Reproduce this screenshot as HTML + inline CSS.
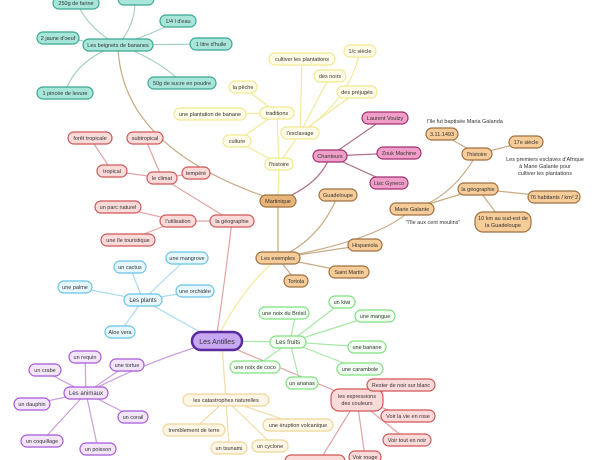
<!DOCTYPE html>
<html><head><meta charset="utf-8"><style>
html,body{margin:0;padding:0;background:#fff;width:600px;height:460px;overflow:hidden}
svg{display:block}
text{font-family:"Liberation Sans",sans-serif;font-size:5.5px;text-anchor:middle;fill:#333}
.t rect{fill:#a8e6da;stroke:#3aa890;stroke-width:1.2}
.y rect{fill:#fffde8;stroke:#f0e890;stroke-width:1.2}
.p rect{fill:#f0a0c8;stroke:#a03070;stroke-width:1.2}
.o rect{fill:#f6cc98;stroke:#a07040;stroke-width:1.2}
.r rect{fill:#fbdada;stroke:#d05858;stroke-width:1.2}
.b rect{fill:#e6f7fd;stroke:#68c4e4;stroke-width:1.2}
.v rect{fill:#f3e6fb;stroke:#a858d8;stroke-width:1.2}
.g rect{fill:#f2fff2;stroke:#80e080;stroke-width:1.2}
.l rect{fill:#fff6e6;stroke:#f0d498;stroke-width:1.2}
path{fill:none;stroke-width:1.2}
</style></head><body>
<svg width="600" height="460" viewBox="0 0 600 460">
<!-- edges -->
<g stroke="#a8d0c8">
<path d="M118 45 Q90 30 78 5"/><path d="M118 45 Q135 25 135 2"/><path d="M118 45 Q150 35 178 21"/>
<path d="M118 45 L58 38"/><path d="M118 45 L211 44"/><path d="M118 45 Q160 60 182 83"/><path d="M118 45 Q75 60 65 93"/>
</g>
<g stroke="#c8aa84">
<path d="M118 45 Q120 150 278 201"/><path d="M278 201 L278 258"/>
<path d="M278 258 Q320 240 338 195"/><path d="M278 258 L365 245"/><path d="M278 258 L349 272"/><path d="M278 258 L296 281"/>
<path d="M278 258 Q380 240 412 209"/><path d="M412 209 Q450 200 477 154"/><path d="M412 209 L478 189"/>
<path d="M477 154 L442 134"/><path d="M477 154 L526 142"/><path d="M478 189 L554 197"/><path d="M478 189 L503 222"/>
</g>
<g stroke="#f2ea9c">
<path d="M279 164 L277 113"/><path d="M279 164 L300 133"/><path d="M279 164 L278 201"/>
<path d="M277 113 L243 87"/><path d="M277 113 L210 114"/><path d="M277 113 L237 141"/><path d="M237 141 L279 164"/>
<path d="M300 133 L302 59"/><path d="M300 133 Q350 100 360 51"/><path d="M300 133 L330 76"/><path d="M300 133 L357 92"/>
<path d="M216 341 Q240 290 278 258"/>
</g>
<g stroke="#b07090">
<path d="M330 156 L385 118"/><path d="M330 156 L399 153"/><path d="M330 156 L389 183"/><path d="M330 156 Q320 185 278 201"/>
</g>
<g stroke="#e2a4a4">
<path d="M232 221 L162 178"/><path d="M232 221 L178 221"/><path d="M162 178 L112 171"/><path d="M162 178 L145 138"/><path d="M162 178 L196 173"/>
<path d="M112 171 L90 138"/><path d="M178 221 L118 207"/><path d="M178 221 L128 240"/>
<path d="M216 341 Q225 280 232 221"/><path d="M216 341 L357 400"/>
<path d="M357 400 L401 385"/><path d="M357 400 L408 416"/><path d="M357 400 L407 440"/><path d="M357 400 L365 457"/><path d="M357 400 L320 460"/>
</g>
<g stroke="#a8dcee">
<path d="M216 341 L143 300"/><path d="M143 300 L130 267"/><path d="M143 300 L187 258"/><path d="M143 300 L75 287"/><path d="M143 300 L195 291"/><path d="M143 300 L120 332"/>
</g>
<g stroke="#c8a0e0">
<path d="M216 341 Q150 360 86 393"/><path d="M86 393 L85 357"/><path d="M86 393 L127 365"/><path d="M86 393 L42 370"/><path d="M86 393 L32 404"/><path d="M86 393 L133 417"/><path d="M86 393 L42 441"/><path d="M86 393 L98 449"/>
</g>
<g stroke="#a8e8a8">
<path d="M216 341 L290 342"/><path d="M290 342 L296 313"/><path d="M290 342 L342 302"/><path d="M290 342 L372 316"/><path d="M290 342 L366 347"/><path d="M290 342 L359 369"/><path d="M290 342 L255 367"/><path d="M290 342 L300 383"/>
</g>
<g stroke="#f2dcaa">
<path d="M222 345 L226 400"/><path d="M226 400 L193 430"/><path d="M226 400 L300 425"/><path d="M226 400 L229 448"/><path d="M226 400 L274 446"/>
</g>
<!-- nodes -->
<g class="t">
<rect x="53" y="-3" width="46" height="12" rx="6"/><text x="76" y="5">250g de farine</text>
<rect x="118" y="-7" width="36" height="12" rx="6"/>
<rect x="160" y="15" width="36" height="12" rx="6"/><text x="178" y="23">1/4 l d'eau</text>
<rect x="37" y="32" width="42" height="12" rx="6"/><text x="58" y="40">2 jaune d'oeuf</text>
<rect x="83" y="39" width="70" height="12" rx="6"/><text x="118" y="47">Les beignets de bananes</text>
<rect x="190" y="38" width="42" height="12" rx="6"/><text x="211" y="46">1 litre d'huile</text>
<rect x="148" y="77" width="68" height="12" rx="6"/><text x="182" y="85">50g de sucre en poudre</text>
<rect x="37" y="87" width="56" height="12" rx="6"/><text x="65" y="95">1 pincée de levure</text>
</g>
<g class="y">
<rect x="269" y="53" width="66" height="12" rx="6"/><text x="302" y="61">cultiver les plantations</text>
<rect x="344" y="45" width="32" height="12" rx="6"/><text x="360" y="53">1/c siècle</text>
<rect x="314" y="70" width="32" height="12" rx="6"/><text x="330" y="78">des noirs</text>
<rect x="337" y="86" width="40" height="12" rx="6"/><text x="357" y="94">des préjugés</text>
<rect x="229" y="81" width="28" height="12" rx="6"/><text x="243" y="89">la pêche</text>
<rect x="260" y="107" width="34" height="12" rx="6"/><text x="277" y="115">traditions</text>
<rect x="174" y="108" width="72" height="12" rx="6"/><text x="210" y="116">une plantation de banane</text>
<rect x="281" y="127" width="38" height="12" rx="6"/><text x="300" y="135">l'esclavage</text>
<rect x="223" y="135" width="28" height="12" rx="6"/><text x="237" y="143">culture</text>
<rect x="265" y="158" width="28" height="12" rx="6"/><text x="279" y="166">l'histoire</text>
</g>
<g class="p">
<rect x="362" y="112" width="46" height="12" rx="6"/><text x="385" y="120">Laurent Voulzy</text>
<rect x="313" y="150" width="34" height="12" rx="6"/><text x="330" y="158">Chanteurs</text>
<rect x="377" y="147" width="44" height="12" rx="6"/><text x="399" y="155">Zouk Machine</text>
<rect x="370" y="177" width="38" height="12" rx="6"/><text x="389" y="185">Lisc Gyneco</text>
</g>
<g class="o">
<rect x="260" y="195" width="36" height="12" rx="6" style="fill:#e8b478"/><text x="278" y="203">Martinique</text>
<rect x="319" y="189" width="38" height="12" rx="6"/><text x="338" y="197">Guadeloupe</text>
<rect x="426" y="128" width="32" height="12" rx="6"/><text x="442" y="136">3.11.1493</text>
<rect x="462" y="148" width="30" height="12" rx="6"/><text x="477" y="156">l'histoire</text>
<rect x="509" y="136" width="34" height="12" rx="6"/><text x="526" y="144">17e siècle</text>
<rect x="458" y="183" width="40" height="12" rx="6"/><text x="478" y="191">la géographie</text>
<rect x="528" y="191" width="52" height="12" rx="6"/><text x="554" y="199">76 habitants / km² 2</text>
<rect x="390" y="203" width="44" height="12" rx="6"/><text x="412" y="211">Marie Galante</text>
<rect x="475" y="212" width="56" height="20" rx="8"/><text x="503" y="220">10 km au sud-est de</text><text x="503" y="227">la Guadeloupe</text>
<rect x="256" y="252" width="44" height="12" rx="6"/><text x="278" y="260">Les exemples</text>
<rect x="348" y="239" width="34" height="12" rx="6"/><text x="365" y="247">Hispaniola</text>
<rect x="329" y="266" width="40" height="12" rx="6"/><text x="349" y="274">Saint Martin</text>
<rect x="284" y="275" width="24" height="12" rx="6"/><text x="296" y="283">Tortola</text>
</g>
<text x="465" y="123">l'île fut baptisée Maria Galanda</text>
<text x="545" y="161">Les premiers esclaves d'Afrique</text>
<text x="545" y="168">à Marie Galante pour</text>
<text x="545" y="175">cultiver les plantations</text>
<text x="433" y="224">"l'île aux cent moulins"</text>
<g class="r">
<rect x="68" y="132" width="44" height="12" rx="6"/><text x="90" y="140">forêt tropicale</text>
<rect x="127" y="132" width="36" height="12" rx="6"/><text x="145" y="140">subtropical</text>
<rect x="97" y="165" width="30" height="12" rx="6"/><text x="112" y="173">tropical</text>
<rect x="147" y="172" width="30" height="12" rx="6"/><text x="162" y="180">le climat</text>
<rect x="182" y="167" width="28" height="12" rx="6"/><text x="196" y="175">tempéré</text>
<rect x="95" y="201" width="46" height="12" rx="6"/><text x="118" y="209">un parc naturel</text>
<rect x="160" y="215" width="36" height="12" rx="6"/><text x="178" y="223">l'utilisation</text>
<rect x="210" y="215" width="44" height="12" rx="6"/><text x="232" y="223">la géographie</text>
<rect x="101" y="234" width="54" height="12" rx="6"/><text x="128" y="242">une île touristique</text>
<rect x="331" y="389" width="52" height="22" rx="8"/><text x="357" y="398">les expressions</text><text x="357" y="405">des couleurs</text>
<rect x="367" y="379" width="68" height="12" rx="6"/><text x="401" y="387">Rester de noir sur blanc</text>
<rect x="381" y="410" width="54" height="12" rx="6"/><text x="408" y="418">Voir la vie en rose</text>
<rect x="383" y="434" width="48" height="12" rx="6"/><text x="407" y="442">Voir tout en noir</text>
<rect x="349" y="451" width="32" height="12" rx="6"/><text x="365" y="459">Voir rouge</text>
<rect x="285" y="455" width="60" height="12" rx="6"/>
</g>
<g class="b">
<rect x="114" y="261" width="32" height="12" rx="6"/><text x="130" y="269">un cactus</text>
<rect x="166" y="252" width="42" height="12" rx="6"/><text x="187" y="260">une mangrove</text>
<rect x="58" y="281" width="34" height="12" rx="6"/><text x="75" y="289">une palme</text>
<rect x="124" y="294" width="38" height="12" rx="6"/><text x="143" y="302" style="font-size:6px">Les plants</text>
<rect x="176" y="285" width="38" height="12" rx="6"/><text x="195" y="293">une orchidée</text>
<rect x="105" y="326" width="30" height="12" rx="6"/><text x="120" y="334">Aloe vera</text>
</g>
<g class="v">
<rect x="192" y="332" width="50" height="18" rx="9" style="fill:#c8a8f0;stroke:#5a2aa0;stroke-width:2.5"/><text x="217" y="344" style="font-size:7px">Les Antilles</text>
<rect x="69" y="351" width="32" height="12" rx="6"/><text x="85" y="359">un requin</text>
<rect x="110" y="359" width="34" height="12" rx="6"/><text x="127" y="367">une tortue</text>
<rect x="29" y="364" width="32" height="12" rx="6"/><text x="45" y="372">un crabe</text>
<rect x="64" y="387" width="44" height="12" rx="6"/><text x="86" y="395" style="font-size:6px">Les animaux</text>
<rect x="14" y="398" width="36" height="12" rx="6"/><text x="32" y="406">un dauphin</text>
<rect x="118" y="411" width="30" height="12" rx="6"/><text x="133" y="419">un corail</text>
<rect x="21" y="435" width="42" height="12" rx="6"/><text x="42" y="443">un coquillage</text>
<rect x="80" y="443" width="36" height="12" rx="6"/><text x="98" y="451">un poisson</text>
</g>
<g class="g">
<rect x="259" y="307" width="50" height="12" rx="6"/><text x="284" y="315">une noix du Brésil</text>
<rect x="329" y="296" width="26" height="12" rx="6"/><text x="342" y="304">un kiwi</text>
<rect x="355" y="310" width="40" height="12" rx="6"/><text x="375" y="318">une mangue</text>
<rect x="270" y="336" width="36" height="12" rx="6"/><text x="288" y="344" style="font-size:6px">Les fruits</text>
<rect x="348" y="341" width="38" height="12" rx="6"/><text x="367" y="349">une banane</text>
<rect x="337" y="363" width="46" height="12" rx="6"/><text x="360" y="371">une carambole</text>
<rect x="230" y="361" width="50" height="12" rx="6"/><text x="255" y="369">une noix de coco</text>
<rect x="286" y="377" width="32" height="12" rx="6"/><text x="302" y="385">un ananas</text>
</g>
<g class="l">
<rect x="183" y="394" width="86" height="12" rx="6"/><text x="226" y="402">les catastrophes naturelles</text>
<rect x="163" y="424" width="62" height="12" rx="6"/><text x="194" y="432">tremblement de terre</text>
<rect x="263" y="419" width="70" height="12" rx="6"/><text x="298" y="427">une éruption volcanique</text>
<rect x="211" y="442" width="36" height="12" rx="6"/><text x="229" y="450">un tsunami</text>
<rect x="252" y="440" width="36" height="12" rx="6"/><text x="270" y="448">un cyclone</text>
</g>
</svg>
</body></html>
